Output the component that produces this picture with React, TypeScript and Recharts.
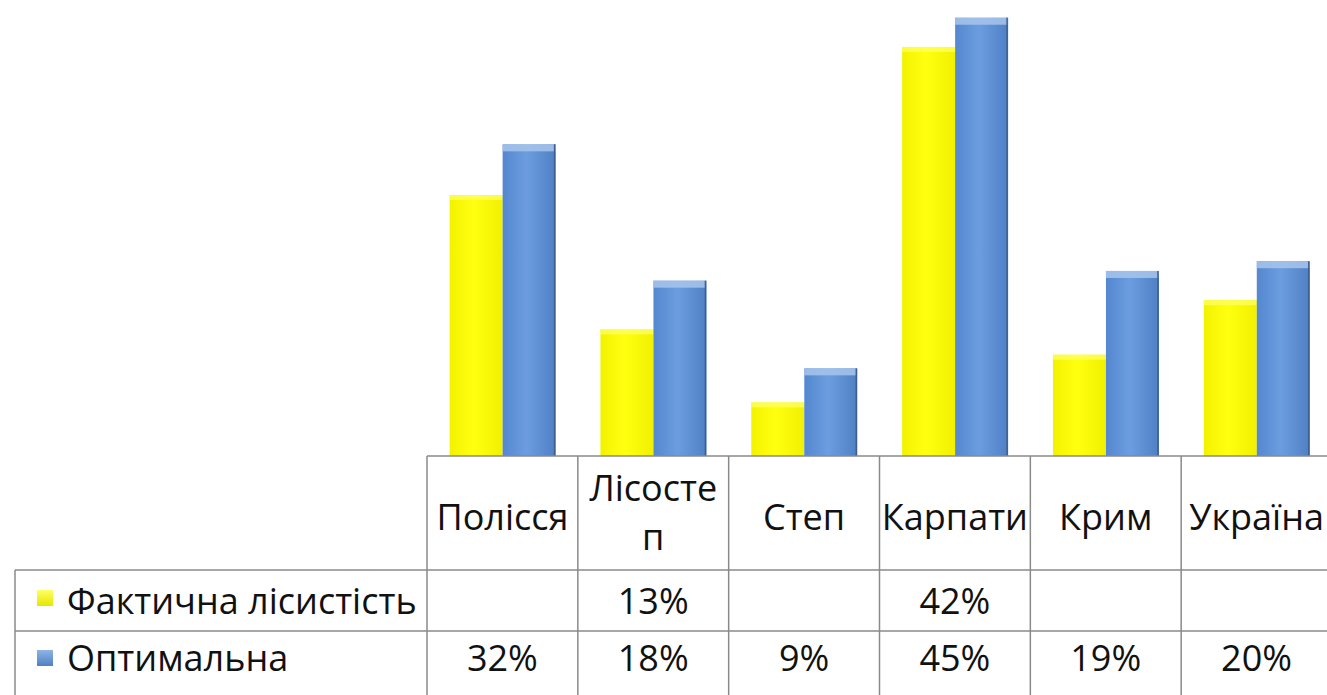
import React from 'react';
import { BarChart, Bar, XAxis, YAxis } from 'recharts';

// categories + series values (percent)
const CATEGORIES = ['Полісся', 'Лісостеп', 'Степ', 'Карпати', 'Крим', 'Україна'];
const FACT = [26.8, 13, 5.5, 42, 10.4, 16];
const OPTIMAL = [32, 18, 9, 45, 19, 20];
// data-table rows as they appear under the chart (some cells are blank)
const FACT_LABELS = ['', '13%', '', '42%', '', ''];
const OPTIMAL_LABELS = ['32%', '18%', '9%', '45%', '19%', '20%'];
const SERIES_NAMES = ['Фактична лісистість', 'Оптимальна'];

const CHART_W = 1340;
const CHART_H = 695;
const MARGIN = { top: 8, right: 8, left: 427, bottom: 0 };
const AXIS_H = 239;
const TABLE_TOP = CHART_H - AXIS_H;
const CELL_W = (CHART_W - MARGIN.left - MARGIN.right) / CATEGORIES.length;
const GRID = '#8a8a8a';
const FONT = '"Open Sans", "Noto Sans", sans-serif';

const data = CATEGORIES.map((name, i) => ({
  name,
  fact: FACT[i],
  optimal: OPTIMAL[i],
  factLabel: FACT_LABELS[i],
  optimalLabel: OPTIMAL_LABELS[i],
}));

// the cell is only wide enough for 7 letters, longer names wrap
const wrap = (s: string) => (s.length > 7 ? [s.slice(0, 7), s.slice(7)] : [s]);

const YellowBar = (props: any) => {
  const { x, y, width, height } = props;
  if (!height || height <= 0) return null;
  return (
    <g>
      <rect x={x} y={y} width={width} height={height} fill="url(#yellowGrad)" />
      <rect x={x} y={y} width={width} height={Math.min(5, height)} fill="#ffff66" opacity={0.7} />
    </g>
  );
};

const BlueBar = (props: any) => {
  const { x, y, width, height } = props;
  if (!height || height <= 0) return null;
  return (
    <g>
      <rect x={x} y={y} width={width} height={height} fill="url(#blueGrad)" />
      <rect x={x} y={y} width={width} height={Math.min(7, height)} fill="#a8c6ec" opacity={0.85} />
      <line x1={x + width - 1} y1={y} x2={x + width - 1} y2={y + height} stroke="#3e5f8e" strokeWidth={1.5} />
    </g>
  );
};

const TableTick = (props: any) => {
  const { x, payload } = props;
  const i = payload.index;
  const row = data[i];
  const left = x - CELL_W / 2;
  const right = x + CELL_W / 2;
  const T = TABLE_TOP;
  const lines = wrap(payload.value);
  const txt = { fontFamily: FONT, fontSize: 36, fill: '#111', textAnchor: 'middle' as const };

  return (
    <g>
      <line x1={left} y1={T} x2={left} y2={CHART_H} stroke={GRID} strokeWidth={1.5} />
      {i === CATEGORIES.length - 1 && (
        <line x1={right} y1={T} x2={right} y2={CHART_H} stroke={GRID} strokeWidth={1.5} />
      )}
      <line x1={left} y1={T + 114} x2={right} y2={T + 114} stroke={GRID} strokeWidth={1.5} />
      <line x1={left} y1={T + 175} x2={right} y2={T + 175} stroke={GRID} strokeWidth={1.5} />

      {lines.length === 1 ? (
        <text x={x} y={T + 74} {...txt}>{lines[0]}</text>
      ) : (
        <>
          <text x={x} y={T + 45} {...txt}>{lines[0]}</text>
          <text x={x} y={T + 94} {...txt}>{lines[1]}</text>
        </>
      )}
      <text x={x} y={T + 158} {...txt}>{row.factLabel}</text>
      <text x={x} y={T + 215} {...txt}>{row.optimalLabel}</text>

      {i === 0 && (
        <g>
          <line x1={15} y1={T + 114} x2={left} y2={T + 114} stroke={GRID} strokeWidth={1.5} />
          <line x1={15} y1={T + 175} x2={left} y2={T + 175} stroke={GRID} strokeWidth={1.5} />
          <line x1={15} y1={T + 114} x2={15} y2={CHART_H} stroke={GRID} strokeWidth={1.5} />
          <rect x={37} y={T + 134} width={16} height={16} fill="url(#yellowKey)" />
          <rect x={37} y={T + 194} width={16} height={16} fill="url(#blueKey)" />
          <text x={67} y={T + 158} fontFamily={FONT} fontSize={36} fill="#111">{SERIES_NAMES[0]}</text>
          <text x={67} y={T + 215} fontFamily={FONT} fontSize={36} fill="#111">{SERIES_NAMES[1]}</text>
        </g>
      )}
    </g>
  );
};

export default function App() {
  return (
    <div style={{ position: 'absolute', left: 0, top: 0, width: 1327, height: 695, overflow: 'hidden', background: '#fff' }}>
      <BarChart
        width={CHART_W}
        height={CHART_H}
        data={data}
        margin={MARGIN}
        barCategoryGap="15%"
        barGap={0}
      >
        <defs>
          <linearGradient id="yellowGrad" x1="0" y1="0" x2="1" y2="0">
            <stop offset="0%" stopColor="#f2f200" />
            <stop offset="45%" stopColor="#ffff10" />
            <stop offset="100%" stopColor="#f0f000" />
          </linearGradient>
          <linearGradient id="blueGrad" x1="0" y1="0" x2="1" y2="0">
            <stop offset="0%" stopColor="#5487cf" />
            <stop offset="45%" stopColor="#6c9de0" />
            <stop offset="100%" stopColor="#4f80c4" />
          </linearGradient>
          <linearGradient id="yellowKey" x1="0" y1="0" x2="0" y2="1">
            <stop offset="0%" stopColor="#ffff66" />
            <stop offset="100%" stopColor="#e6e600" />
          </linearGradient>
          <linearGradient id="blueKey" x1="0" y1="0" x2="0" y2="1">
            <stop offset="0%" stopColor="#8fb4e6" />
            <stop offset="100%" stopColor="#4f80c4" />
          </linearGradient>
        </defs>
        <XAxis
          dataKey="name"
          height={AXIS_H}
          interval={0}
          tickLine={false}
          axisLine={{ stroke: GRID, strokeWidth: 1.5 }}
          tick={<TableTick />}
        />
        <YAxis hide domain={[0, 46]} />
        <Bar dataKey="fact" name={SERIES_NAMES[0]} shape={<YellowBar />} isAnimationActive={false} />
        <Bar dataKey="optimal" name={SERIES_NAMES[1]} shape={<BlueBar />} isAnimationActive={false} />
      </BarChart>
    </div>
  );
}
